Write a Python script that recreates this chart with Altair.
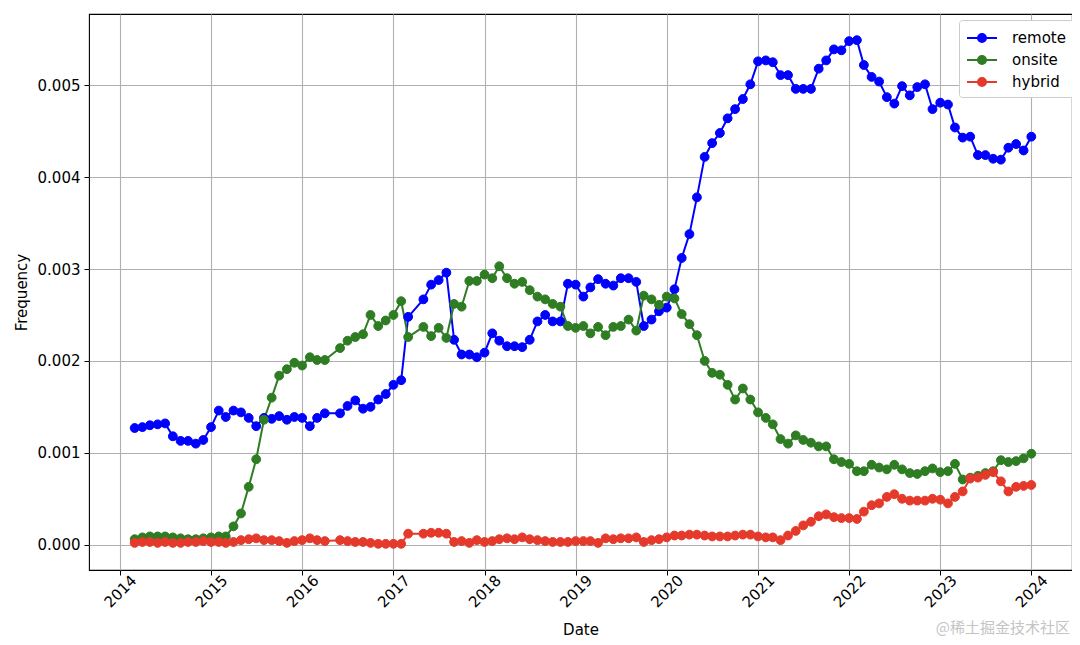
import altair as alt
import pandas as pd

SERIES = ["remote", "onsite", "hybrid"]
COLORS = ["#0000ff", "#2e7d23", "#e53a2b"]

DATES = [
    "2014-03", "2014-04", "2014-05", "2014-06", "2014-07", "2014-08", "2014-09", "2014-10", "2014-11", "2014-12",
    "2015-01", "2015-02", "2015-03", "2015-04", "2015-05", "2015-06", "2015-07", "2015-08", "2015-09", "2015-10", "2015-11", "2015-12",
    "2016-01", "2016-02", "2016-03", "2016-04", "2016-06", "2016-07", "2016-08", "2016-09", "2016-10", "2016-11", "2016-12",
    "2017-01", "2017-02", "2017-03", "2017-05", "2017-06", "2017-07", "2017-08", "2017-09", "2017-10", "2017-11", "2017-12",
    "2018-01", "2018-02", "2018-03", "2018-04", "2018-05", "2018-06", "2018-07", "2018-08", "2018-09", "2018-10", "2018-11", "2018-12",
    "2019-01", "2019-02", "2019-03", "2019-04", "2019-05", "2019-06", "2019-07", "2019-08", "2019-09", "2019-10", "2019-11", "2019-12",
    "2020-01", "2020-02", "2020-03", "2020-04", "2020-05", "2020-06", "2020-07", "2020-08", "2020-09", "2020-10", "2020-11", "2020-12",
    "2021-01", "2021-02", "2021-03", "2021-04", "2021-05", "2021-06", "2021-07", "2021-08", "2021-09", "2021-10", "2021-11", "2021-12",
    "2022-01", "2022-02", "2022-03", "2022-04", "2022-05", "2022-06", "2022-07", "2022-08", "2022-09", "2022-10", "2022-11", "2022-12",
    "2023-01", "2023-02", "2023-03", "2023-04", "2023-05", "2023-06", "2023-07", "2023-08", "2023-09", "2023-10", "2023-11", "2023-12",
    "2024-01",
]

REMOTE = [
    0.00127, 0.00128, 0.00130, 0.00131, 0.00132, 0.00118, 0.00113, 0.00113, 0.00110, 0.00114,
    0.00128, 0.00146, 0.00139, 0.00146, 0.00144, 0.00138, 0.00129, 0.00138, 0.00137, 0.00140, 0.00136, 0.00139,
    0.00138, 0.00129, 0.00138, 0.00143, 0.00143, 0.00151, 0.00157, 0.00148, 0.00150, 0.00158, 0.00164,
    0.00174, 0.00179, 0.00248, 0.00267, 0.00283, 0.00288, 0.00296, 0.00223, 0.00207, 0.00207, 0.00204,
    0.00209, 0.00230, 0.00222, 0.00216, 0.00216, 0.00215, 0.00223, 0.00243, 0.00250, 0.00243, 0.00243, 0.00284,
    0.00283, 0.00270, 0.00280, 0.00289, 0.00284, 0.00282, 0.00290, 0.00290, 0.00286, 0.00238, 0.00245, 0.00254,
    0.00258, 0.00278, 0.00312, 0.00338, 0.00378, 0.00422, 0.00437, 0.00448, 0.00464, 0.00474, 0.00485, 0.00501,
    0.00526, 0.00527, 0.00525, 0.00511, 0.00511, 0.00496, 0.00496, 0.00496, 0.00518, 0.00527, 0.00539, 0.00538,
    0.00548, 0.00549, 0.00522, 0.00509, 0.00504, 0.00487, 0.00480, 0.00499, 0.00489, 0.00498, 0.00501, 0.00474,
    0.00481, 0.00479, 0.00454, 0.00443, 0.00444, 0.00424, 0.00424, 0.00420, 0.00419, 0.00432, 0.00436, 0.00429,
    0.00444,
]

ONSITE = [
    0.00006, 0.00008, 0.00009, 0.00009, 0.00009, 0.00008, 0.00007, 0.00006, 0.00006, 0.00007,
    0.00008, 0.00009, 0.00009, 0.00020, 0.00034, 0.00063, 0.00093, 0.00136, 0.00160, 0.00184, 0.00191, 0.00198,
    0.00195, 0.00204, 0.00201, 0.00201, 0.00214, 0.00222, 0.00226, 0.00229, 0.00250, 0.00238, 0.00244,
    0.00250, 0.00265, 0.00226, 0.00237, 0.00227, 0.00236, 0.00225, 0.00262, 0.00259, 0.00287, 0.00287,
    0.00294, 0.00290, 0.00303, 0.00290, 0.00284, 0.00286, 0.00277, 0.00270, 0.00267, 0.00262, 0.00259, 0.00238,
    0.00236, 0.00238, 0.00230, 0.00237, 0.00228, 0.00237, 0.00238, 0.00245, 0.00233, 0.00271, 0.00267, 0.00261,
    0.00270, 0.00268, 0.00251, 0.00240, 0.00228, 0.00200, 0.00187, 0.00185, 0.00174, 0.00158, 0.00170, 0.00158,
    0.00144, 0.00138, 0.00131, 0.00115, 0.00110, 0.00119, 0.00114, 0.00111, 0.00107, 0.00107, 0.00093, 0.00090,
    0.00088, 0.00080, 0.00080, 0.00087, 0.00084, 0.00082, 0.00087, 0.00082, 0.00078, 0.00077, 0.00080, 0.00083,
    0.00079, 0.00080, 0.00088, 0.00071, 0.00073, 0.00075, 0.00078, 0.00080, 0.00092, 0.00090, 0.00091, 0.00094,
    0.00099,
]

HYBRID = [
    0.00002, 0.00003, 0.00003, 0.00002, 0.00003, 0.00002, 0.00002, 0.00003, 0.00003, 0.00004,
    0.00003, 0.00003, 0.00002, 0.00003, 0.00005, 0.00006, 0.00007, 0.00005, 0.00005, 0.00004, 0.00002, 0.00004,
    0.00005, 0.00007, 0.00005, 0.00004, 0.00005, 0.00004, 0.00003, 0.00003, 0.00002, 0.00001, 0.00001,
    0.00001, 0.00001, 0.00012, 0.00012, 0.00013, 0.00013, 0.00012, 0.00003, 0.00004, 0.00002, 0.00005,
    0.00003, 0.00004, 0.00006, 0.00007, 0.00006, 0.00008, 0.00006, 0.00005, 0.00004, 0.00003, 0.00003, 0.00003,
    0.00004, 0.00004, 0.00004, 0.00002, 0.00007, 0.00006, 0.00007, 0.00007, 0.00008, 0.00003, 0.00005, 0.00006,
    0.00008, 0.00010, 0.00010, 0.00011, 0.00011, 0.00010, 0.00009, 0.00009, 0.00009, 0.00010, 0.00011, 0.00011,
    0.00009, 0.00008, 0.00008, 0.00005, 0.00010, 0.00015, 0.00021, 0.00025, 0.00031, 0.00033, 0.00030, 0.00029,
    0.00029, 0.00028, 0.00036, 0.00043, 0.00045, 0.00052, 0.00055, 0.00050, 0.00048, 0.00048, 0.00048, 0.00050,
    0.00049, 0.00045, 0.00052, 0.00058, 0.00072, 0.00073, 0.00076, 0.00079, 0.00069, 0.00058, 0.00063, 0.00064,
    0.00065,
]

YEAR_TICKS = list(range(2014, 2025))
Y_TICKS = [0.000, 0.001, 0.002, 0.003, 0.004, 0.005]
WATERMARK = "@稀土掘金技术社区"

rows = []
for name, vals in zip(SERIES, [REMOTE, ONSITE, HYBRID]):
    for d, v in zip(DATES, vals):
        rows.append({"date": d + "-01", "series": name, "value": v})
df = pd.DataFrame(rows)

FONT = "DejaVu Sans"
FS = 15

x_enc = alt.X(
    "date:T",
    title="Date",
    scale=alt.Scale(
        type="utc",
        nice=False,
        domain=[alt.DateTime(year=2013, month=8, date=30, utc=True),
                alt.DateTime(year=2024, month=6, date=12, utc=True)],
    ),
    axis=alt.Axis(
        values=[alt.DateTime(year=y, month=1, date=1, utc=True) for y in YEAR_TICKS],
        format="%Y",
        labelAngle=-45,
        labelAlign="center",
        labelBaseline="middle",
        labelPadding=16,
        titleY=59,
        titleBaseline="middle",
    ),
)
y_enc = alt.Y(
    "value:Q",
    title="Frequency",
    scale=alt.Scale(domain=[-0.000275, 0.005775], nice=False, zero=False),
    axis=alt.Axis(values=Y_TICKS, format=".3f", labelPadding=4, titleX=-68, titleBaseline="middle"),
)
color_scale = alt.Scale(domain=SERIES, range=COLORS)

lines = alt.Chart(df).mark_line(strokeWidth=2).encode(
    x=x_enc,
    y=y_enc,
    stroke=alt.Stroke("series:N", scale=color_scale, sort=SERIES, title=None),
    detail="series:N",
)
points = alt.Chart(df).mark_point(size=78, strokeWidth=1, opacity=1, fillOpacity=1).encode(
    x=x_enc,
    y=y_enc,
    fill=alt.Fill("series:N", scale=color_scale, sort=SERIES, title=None),
    stroke=alt.Stroke("series:N", scale=color_scale, sort=SERIES, title=None),
)

wm = alt.Chart(pd.DataFrame({"t": [WATERMARK]})).mark_text(
    align="right", baseline="middle", fontSize=15, font="Noto Sans CJK SC", color="#c4c4c4"
).encode(text="t:N", x=alt.value(981), y=alt.value(614))

chart = alt.layer(lines, points, wm).properties(
    width=983,
    height=556,
    autosize=alt.AutoSizeParams(type="none"),
    padding={"left": 81, "top": 6, "right": 0, "bottom": 67},
).configure_view(
    stroke="black", strokeWidth=1.1
).configure_axis(
    grid=True,
    gridColor="#b0b0b0",
    gridWidth=1.1,
    domain=False,
    tickColor="black",
    tickSize=5,
    tickWidth=1,
    labelColor="black",
    labelFont=FONT,
    labelFontSize=FS,
    titleFont=FONT,
    titleFontSize=FS,
    titleFontWeight="normal",
    titleColor="black",
).configure_legend(
    orient="none",
    legendX=870,
    legendY=6,
    fillColor="white",
    strokeColor="#cccccc",
    cornerRadius=3,
    padding=7,
    labelFont=FONT,
    labelFontSize=FS,
    labelColor="black",
    labelOffset=24,
    symbolType="M-1,0L2,0M0.1,0A0.4,0.4,0,1,0,0.9,0A0.4,0.4,0,1,0,0.1,0Z",
    symbolSize=400,
    symbolStrokeWidth=2,
    symbolOpacity=1,
    rowPadding=3,
)

chart.save("out.html", embed_options={"renderer": "svg", "actions": False})
